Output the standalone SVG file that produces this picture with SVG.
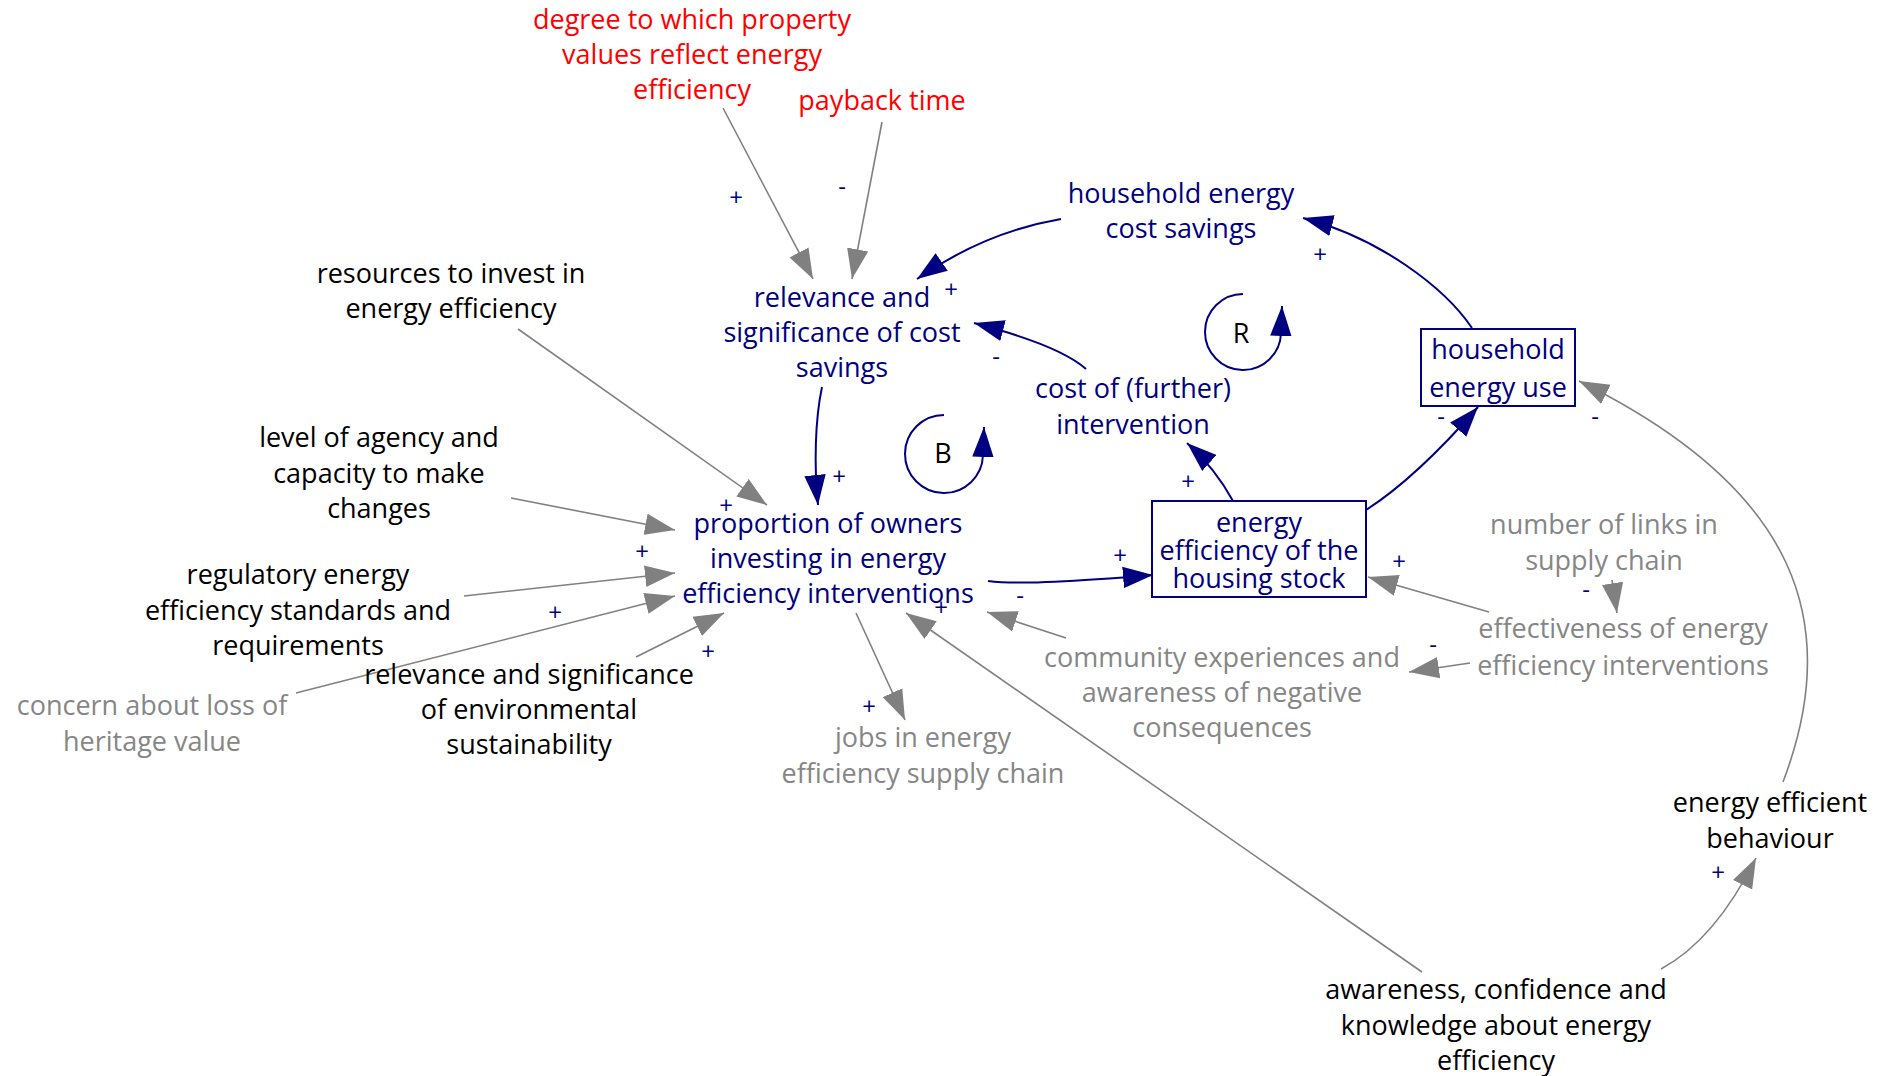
<svg xmlns="http://www.w3.org/2000/svg" width="1880" height="1076" viewBox="0 0 1880 1076">
<style>
text{font-family:"Open Sans","Liberation Sans",sans-serif;font-size:27px;text-anchor:middle}
.navy{fill:#000080}
.red{fill:#ff0000}
.blk{fill:#000000}
.gry{fill:#868686}
.pol{fill:#000080;font-size:24px}
.box{fill:none;stroke:#000080;stroke-width:2}
.cg{fill:none;stroke:#808080;stroke-width:1.6;marker-end:url(#ag)}
.cn{fill:none;stroke:#000080;stroke-width:2;marker-end:url(#an)}
.loop{fill:none;stroke:#000080;stroke-width:2;marker-end:url(#an)}
</style>
<defs>
<marker id="ag" markerUnits="userSpaceOnUse" markerWidth="30" markerHeight="22" refX="28" refY="10" orient="auto" viewBox="0 0 28 20"><path d="M0,0 L28,10 L0,20 z" fill="#808080"/></marker>
<marker id="an" markerUnits="userSpaceOnUse" markerWidth="30" markerHeight="22" refX="28" refY="10" orient="auto" viewBox="0 0 28 20"><path d="M0,0 L28,10 L0,20 z" fill="#000080"/></marker>
</defs>
<rect width="1880" height="1076" fill="#ffffff"/>

<g id="connectors">
<path class="cg" d="M723,108 L813,279"/>
<path class="cg" d="M882,122 L852,279"/>
<path class="cn" d="M1061,219 Q985,232 917,279"/>
<path class="cn" d="M1472,328 C1445,288 1380,238 1303,218"/>
<path class="cn" d="M1086,369 C1065,350 1020,335 974,323"/>
<path class="cn" d="M1233,501 Q1215,468 1187,443"/>
<path class="cn" d="M1366,510 Q1416,478 1478,407"/>
<path class="cn" d="M822,387 C815,420 814,465 818,505"/>
<path class="cn" d="M988,581 C1020,585 1080,581 1153,575"/>
<path class="loop" d="M944,415 A39,39 0 1 0 983,455 L984,427"/>
<path class="loop" d="M1243,294 A38,38 0 1 0 1281,333 L1282,306"/>
<path class="cg" d="M511,498 L675,530"/>
<path class="cg" d="M464,596 L675,573"/>
<path class="cg" d="M296,693 L675,596"/>
<path class="cg" d="M518,329 L767,505"/>
<path class="cg" d="M636,657 L724,613"/>
<path class="cg" d="M856,613 L905,720"/>
<path class="cg" d="M1066,638 L987,612"/>
<path class="cg" d="M1422,972 L906,613"/>
<path class="cg" d="M1661,969 Q1715,940 1756,858"/>
<path class="cg" d="M1783,782 C1843,625 1800,490 1579,381"/>
<path class="cg" d="M1612,580 L1617,613"/>
<path class="cg" d="M1489,612 L1368,577"/>
<path class="cg" d="M1470,663 L1409,672"/>
</g>

<g id="polarities">
<text class="pol" x="736" y="206">+</text>
<text class="pol" x="842" y="195">-</text>
<text class="pol" x="951" y="298">+</text>
<text class="pol" x="1320" y="263">+</text>
<text class="pol" x="996" y="365">-</text>
<text class="pol" x="1188" y="490">+</text>
<text class="pol" x="1441" y="425">-</text>
<text class="pol" x="1595" y="425">-</text>
<text class="pol" x="839" y="485">+</text>
<text class="pol" x="726" y="514">+</text>
<text class="pol" x="642" y="560">+</text>
<text class="pol" x="555" y="621">+</text>
<text class="pol" x="475" y="682">-</text>
<text class="pol" x="708" y="660">+</text>
<text class="pol" x="869" y="715">+</text>
<text class="pol" x="941" y="616">+</text>
<text class="pol" x="1020" y="604">-</text>
<text class="pol" x="1120" y="564">+</text>
<text class="pol" x="1399" y="570">+</text>
<text class="pol" x="1586" y="598">-</text>
<text class="pol" x="1433" y="653">-</text>
<text class="pol" x="1718" y="881">+</text>
</g>

<g id="n_degree"><text class="red"><tspan x="692" y="29">degree to which property</tspan><tspan x="692" y="64">values reflect energy</tspan><tspan x="692" y="99">efficiency</tspan></text></g>
<g id="n_payback"><text class="red" x="882" y="110">payback time</text></g>
<g id="n_relevance_cost"><text class="navy"><tspan x="842" y="307">relevance and</tspan><tspan x="842" y="342">significance of cost</tspan><tspan x="842" y="377">savings</tspan></text></g>
<g id="n_hh_savings"><text class="navy"><tspan x="1181" y="203">household energy</tspan><tspan x="1181" y="238">cost savings</tspan></text></g>
<g id="n_cost_further"><text class="navy"><tspan x="1133" y="398">cost of (further)</tspan><tspan x="1133" y="434">intervention</tspan></text></g>
<g id="n_hh_use"><rect class="box" x="1421" y="329" width="154" height="77"/><text class="navy"><tspan x="1498" y="359">household</tspan><tspan x="1498" y="397">energy use</tspan></text></g>
<g id="n_R"><text class="blk" x="1241" y="343">R</text></g>
<g id="n_B"><text class="blk" x="943" y="463">B</text></g>
<g id="n_energy_eff"><rect class="box" x="1152" y="501" width="214" height="96"/><text class="navy"><tspan x="1259" y="532">energy</tspan><tspan x="1259" y="560">efficiency of the</tspan><tspan x="1259" y="588">housing stock</tspan></text></g>
<g id="n_proportion"><text class="navy"><tspan x="828" y="533">proportion of owners</tspan><tspan x="828" y="568">investing in energy</tspan><tspan x="828" y="603">efficiency interventions</tspan></text></g>
<g id="n_resources"><text class="blk"><tspan x="451" y="283">resources to invest in</tspan><tspan x="451" y="318">energy efficiency</tspan></text></g>
<g id="n_agency"><text class="blk"><tspan x="379" y="447">level of agency and</tspan><tspan x="379" y="483">capacity to make</tspan><tspan x="379" y="518">changes</tspan></text></g>
<g id="n_regulatory"><text class="blk"><tspan x="298" y="584">regulatory energy</tspan><tspan x="298" y="620">efficiency standards and</tspan><tspan x="298" y="655">requirements</tspan></text></g>
<g id="n_concern"><text class="gry"><tspan x="152" y="715">concern about loss of</tspan><tspan x="152" y="751">heritage value</tspan></text></g>
<g id="n_env"><text class="blk"><tspan x="529" y="684">relevance and significance</tspan><tspan x="529" y="719">of environmental</tspan><tspan x="529" y="754">sustainability</tspan></text></g>
<g id="n_jobs"><text class="gry"><tspan x="923" y="747">jobs in energy</tspan><tspan x="923" y="783">efficiency supply chain</tspan></text></g>
<g id="n_community"><text class="gry"><tspan x="1222" y="667">community experiences and</tspan><tspan x="1222" y="702">awareness of negative</tspan><tspan x="1222" y="737">consequences</tspan></text></g>
<g id="n_links"><text class="gry"><tspan x="1604" y="534">number of links in</tspan><tspan x="1604" y="570">supply chain</tspan></text></g>
<g id="n_effectiveness"><text class="gry"><tspan x="1623" y="638">effectiveness of energy</tspan><tspan x="1623" y="675">efficiency interventions</tspan></text></g>
<g id="n_behaviour"><text class="blk"><tspan x="1770" y="812">energy efficient</tspan><tspan x="1770" y="848">behaviour</tspan></text></g>
<g id="n_awareness"><text class="blk"><tspan x="1496" y="999">awareness, confidence and</tspan><tspan x="1496" y="1035">knowledge about energy</tspan><tspan x="1496" y="1070">efficiency</tspan></text></g>
</svg>
